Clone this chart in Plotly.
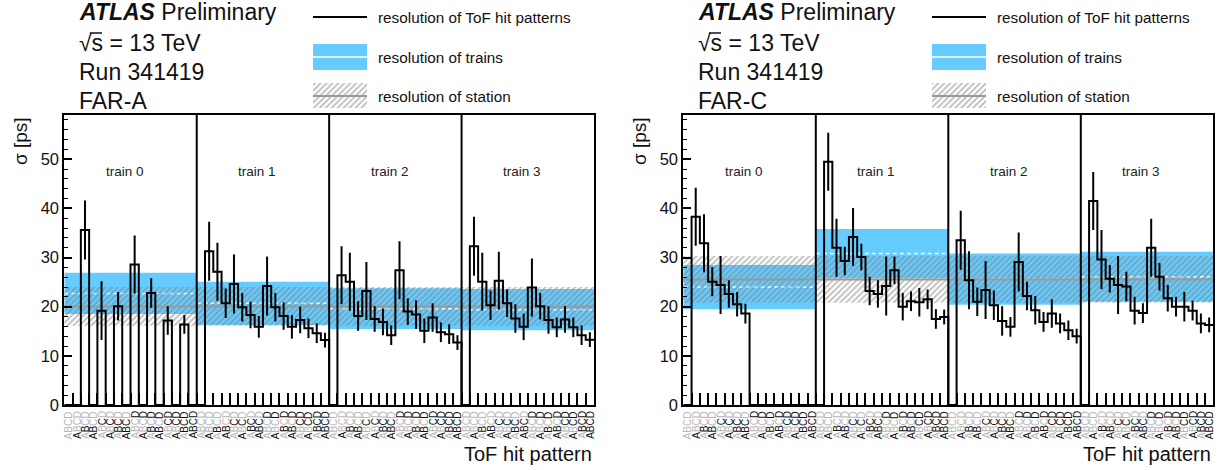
import plotly.graph_objects as go

W, H = 1227, 470
FONT = "Liberation Sans, Arial, Helvetica, sans-serif"

# ---------------- data ----------------
hit_letters = ["A", "B", "C", "D"]
n_patterns = 16          # hit patterns per train (binary ABCD)
train_names = ["train 0", "train 1", "train 2", "train 3"]
y_tick_values = [0, 10, 20, 30, 40, 50]
header_lines = ["<b><i>ATLAS</i></b> Preliminary", "√s = 13 TeV", "Run 341419"]
legend_labels = ["resolution of ToF hit patterns", "resolution of trains", "resolution of station"]

# FAR-A : sigma [ps] per hit pattern, per train
farA_sigma_t0 = [0, 0, 35.6, 0, 19.2, 0, 20.1, 0, 28.6, 0, 22.8, 0, 17.2, 0, 16.4, 0]
farA_err_t0 = [0, 0, 6.0, 0, 6.0, 0, 2.9, 0, 5.9, 0, 3.0, 0, 2.9, 0, 1.9, 0]
farA_sigma_t1 = [0, 31.3, 27.1, 20.7, 24.6, 19.9, 18.3, 15.9, 24.2, 19.9, 18.1, 15.9, 17.3, 15.6, 14.6, 13.2]
farA_err_t1 = [0, 6.0, 5.9, 3.0, 6.0, 2.9, 2.7, 2.2, 6.0, 2.9, 2.8, 2.4, 2.7, 2.0, 2.0, 1.5]
farA_sigma_t2 = [0, 26.4, 25.1, 18.1, 23.2, 17.5, 16.9, 14.2, 27.4, 19.0, 18.4, 15.1, 17.8, 14.8, 14.4, 12.7]
farA_err_t2 = [0, 5.9, 5.9, 3.0, 5.9, 2.6, 2.7, 2.0, 5.9, 2.7, 2.9, 2.5, 2.9, 2.0, 2.0, 1.5]
farA_sigma_t3 = [0, 32.3, 25.1, 20.3, 25.3, 20.7, 17.6, 15.9, 23.9, 20.1, 17.3, 15.8, 17.4, 15.8, 14.2, 13.3]
farA_err_t3 = [0, 6.0, 5.9, 3.0, 5.9, 2.8, 2.9, 2.7, 5.9, 2.7, 2.8, 2.0, 2.7, 2.0, 2.0, 1.5]
farA_train_center = [22.7, 20.7, 19.6, 19.4]
farA_train_halfwidth = [4.2, 4.4, 4.15, 4.2]
farA_station_center = 20.05
farA_station_halfwidth = 3.95

# FAR-C
farC_sigma_t0 = [0, 38.3, 32.9, 25.1, 24.4, 22.6, 20.5, 18.6, 0, 0, 0, 0, 0, 0, 0, 0]
farC_err_t0 = [0, 5.9, 5.9, 3.0, 5.9, 2.8, 2.5, 2.0, 0, 0, 0, 0, 0, 0, 0, 0]
farC_sigma_t1 = [0, 49.5, 32.0, 29.3, 34.2, 30.1, 23.2, 22.6, 24.2, 27.4, 20.0, 21.1, 20.9, 21.5, 17.5, 17.9]
farC_err_t1 = [0, 5.9, 5.9, 2.9, 5.9, 2.7, 2.9, 2.8, 6.0, 2.8, 2.8, 2.0, 2.9, 2.0, 2.0, 1.5]
farC_sigma_t2 = [0, 33.5, 25.4, 21.0, 23.4, 20.3, 17.1, 15.9, 29.1, 22.2, 19.3, 16.9, 18.6, 16.6, 15.2, 14.0]
farC_err_t2 = [0, 6.0, 5.9, 2.9, 5.9, 3.0, 3.0, 2.0, 6.0, 2.9, 2.9, 2.0, 2.9, 2.0, 2.0, 1.5]
farC_sigma_t3 = [0, 41.5, 29.6, 25.7, 24.4, 24.1, 19.2, 18.7, 32.0, 26.1, 21.7, 20.0, 20.0, 19.2, 16.6, 16.3]
farC_err_t3 = [0, 5.9, 6.0, 2.8, 5.9, 3.0, 2.8, 2.0, 5.9, 2.8, 2.7, 2.0, 3.0, 2.0, 2.0, 1.5]
farC_train_center = [24.0, 30.8, 25.6, 26.1]
farC_train_halfwidth = [4.5, 5.0, 5.2, 5.1]
farC_station_center = 25.55
farC_station_halfwidth = 4.75

# ---------------- styling ----------------
BLUE = "#66CCFF"
HATCH = "#7c7c7c"
GRAY_LINE = "#999999"
ABSENT = "#b8b8b8"

panels = [
    dict(station="FAR-A",
         sigma=farA_sigma_t0 + farA_sigma_t1 + farA_sigma_t2 + farA_sigma_t3,
         err=farA_err_t0 + farA_err_t1 + farA_err_t2 + farA_err_t3,
         tc=farA_train_center, th=farA_train_halfwidth,
         sc=farA_station_center, sh=farA_station_halfwidth,
         px0=64.3, px1=594.0),
    dict(station="FAR-C",
         sigma=farC_sigma_t0 + farC_sigma_t1 + farC_sigma_t2 + farC_sigma_t3,
         err=farC_err_t0 + farC_err_t1 + farC_err_t2 + farC_err_t3,
         tc=farC_train_center, th=farC_train_halfwidth,
         sc=farC_station_center, sh=farC_station_halfwidth,
         px0=683.3, px1=1213.3),
]

PY_TOP, PY_BOT = 115.0, 405.0
n_bins = n_patterns * len(train_names)

fig = go.Figure()
annotations = []
shapes = []

for i, p in enumerate(panels):
    xa = "x" if i == 0 else "x2"
    ya = "y" if i == 0 else "y2"
    dx = p["px0"] - panels[0]["px0"]

    # blue train bands
    bx, by = [], []
    for t in range(len(train_names)):
        a, b = t * n_patterns, (t + 1) * n_patterns
        lo, hi = p["tc"][t] - p["th"][t], p["tc"][t] + p["th"][t]
        bx += [a, b, b, a, a, None]
        by += [lo, lo, hi, hi, lo, None]
    fig.add_trace(go.Scatter(x=bx, y=by, xaxis=xa, yaxis=ya, mode="lines", fill="toself",
                             fillcolor=BLUE, line=dict(width=0), hoverinfo="skip", showlegend=False))
    # white dashed centre lines of trains
    wx, wy = [], []
    for t in range(len(train_names)):
        wx += [t * n_patterns, (t + 1) * n_patterns, None]
        wy += [p["tc"][t], p["tc"][t], None]
    fig.add_trace(go.Scatter(x=wx, y=wy, xaxis=xa, yaxis=ya, mode="lines",
                             line=dict(color="white", width=1.5, dash="4px,3px"),
                             hoverinfo="skip", showlegend=False))
    # hatched station band
    lo, hi = p["sc"] - p["sh"], p["sc"] + p["sh"]
    fig.add_trace(go.Scatter(x=[0, n_bins, n_bins, 0, 0], y=[lo, lo, hi, hi, lo], xaxis=xa, yaxis=ya,
                             mode="lines", fill="toself", fillcolor="rgba(0,0,0,0)",
                             fillpattern=dict(shape="/", fgcolor=HATCH, bgcolor="rgba(0,0,0,0)",
                                              size=4.2, solidity=0.45),
                             line=dict(width=0), hoverinfo="skip", showlegend=False))
    fig.add_trace(go.Scatter(x=[0, n_bins], y=[p["sc"], p["sc"]], xaxis=xa, yaxis=ya, mode="lines",
                             line=dict(color=GRAY_LINE, width=2), hoverinfo="skip", showlegend=False))
    # histogram outline
    edges = list(range(n_bins + 1))
    fig.add_trace(go.Scatter(x=edges, y=p["sigma"] + [p["sigma"][-1]], xaxis=xa, yaxis=ya, mode="lines",
                             line=dict(color="black", width=2, shape="hv"), hoverinfo="skip",
                             showlegend=False))
    # error bars
    ex = [k + 0.5 for k in range(n_bins) if p["sigma"][k] > 0]
    ey = [p["sigma"][k] for k in range(n_bins) if p["sigma"][k] > 0]
    ee = [p["err"][k] for k in range(n_bins) if p["sigma"][k] > 0]
    fig.add_trace(go.Scatter(x=ex, y=ey, xaxis=xa, yaxis=ya, mode="markers",
                             marker=dict(size=1, color="rgba(0,0,0,0)"),
                             error_y=dict(type="data", array=ee, visible=True, color="black",
                                          thickness=2, width=0),
                             hoverinfo="skip", showlegend=False))
    # train separators
    for t in range(1, len(train_names)):
        shapes.append(dict(type="line", xref=xa, yref=ya + " domain", x0=t * n_patterns,
                           x1=t * n_patterns, y0=0, y1=1, line=dict(color="black", width=2)))
    # train labels
    for t, nm in enumerate(train_names):
        annotations.append(dict(xref=xa, yref="y3", x=t * n_patterns + n_patterns / 2 - 0.7, y=171,
                                text=nm, showarrow=False, font=dict(size=13.5, color="#222"),
                                xanchor="center", yanchor="middle"))
    # bin labels (rotated, present hits black, absent grey)
    for k in range(n_bins):
        pat = k % n_patterns
        txt = "".join(
            "<span style='color:%s'>%s</span>" % ("#111" if (pat >> j) & 1 else ABSENT, L)
            for j, L in enumerate(hit_letters))
        annotations.append(dict(xref=xa, yref="y3", x=k + 0.5, y=425, text=txt, textangle=-90,
                                showarrow=False, font=dict(size=10), xanchor="center",
                                yanchor="middle"))
    # axis titles
    annotations.append(dict(xref="x3", yref="y3", x=p["px1"], y=454, text="ToF hit pattern",
                            showarrow=False, font=dict(size=20, color="#111"), xanchor="right",
                            yanchor="middle"))
    annotations.append(dict(xref="x3", yref="y3", x=20 + dx, y=141, text="σ [ps]", textangle=-90,
                            showarrow=False, font=dict(size=19, color="#111"), xanchor="center",
                            yanchor="middle"))
    # header texts
    for j, line in enumerate(header_lines + [p["station"]]):
        annotations.append(dict(xref="x3", yref="y3", x=77 + dx, y=[12, 43, 72, 101][j], text=line,
                                showarrow=False, font=dict(size=23, color="#111"), xanchor="left",
                                yanchor="middle"))
    shapes.append(dict(type="line", xref="x3", yref="y3", x0=90 + dx, x1=102 + dx, y0=33, y1=33,
                       line=dict(color="#111", width=1.5)))
    # legend
    lx0, lx1 = 313 + dx, 367 + dx
    fig.add_trace(go.Scatter(x=[lx0, lx1], y=[17, 17], xaxis="x3", yaxis="y3", mode="lines",
                             line=dict(color="black", width=2), hoverinfo="skip", showlegend=False))
    fig.add_trace(go.Scatter(x=[lx0, lx1, lx1, lx0, lx0], y=[44, 44, 70, 70, 44], xaxis="x3", yaxis="y3",
                             mode="lines", fill="toself", fillcolor=BLUE, line=dict(width=0),
                             hoverinfo="skip", showlegend=False))
    fig.add_trace(go.Scatter(x=[lx0, lx1], y=[57, 57], xaxis="x3", yaxis="y3", mode="lines",
                             line=dict(color="white", width=1.5), hoverinfo="skip", showlegend=False))
    fig.add_trace(go.Scatter(x=[lx0, lx1, lx1, lx0, lx0], y=[83, 83, 108, 108, 83], xaxis="x3",
                             yaxis="y3", mode="lines", fill="toself", fillcolor="rgba(0,0,0,0)",
                             fillpattern=dict(shape="/", fgcolor=HATCH, bgcolor="rgba(0,0,0,0)",
                                              size=4.2, solidity=0.45),
                             line=dict(width=0), hoverinfo="skip", showlegend=False))
    fig.add_trace(go.Scatter(x=[lx0, lx1], y=[96, 96], xaxis="x3", yaxis="y3", mode="lines",
                             line=dict(color=GRAY_LINE, width=2), hoverinfo="skip", showlegend=False))
    for j, lab in enumerate(legend_labels):
        annotations.append(dict(xref="x3", yref="y3", x=376 + dx, y=[17, 57, 96][j], text=lab,
                                showarrow=False, font=dict(size=15.3, color="#111"), xanchor="left",
                                yanchor="middle"))

common_x = dict(range=[0, n_bins], showline=True, mirror=True, linewidth=2, linecolor="black",
                ticks="inside", tickmode="array", tickvals=list(range(n_bins + 1)), ticklen=12,
                tickwidth=2, tickcolor="black", showticklabels=False, showgrid=False, zeroline=False,
                automargin=False)
common_y = dict(range=[0, 59], showline=True, mirror=True, linewidth=2, linecolor="black",
                ticks="inside", tickmode="array", tickvals=y_tick_values, ticklen=8, tickwidth=1.5,
                tickcolor="black", minor=dict(dtick=2, tick0=0, ticks="inside", ticklen=4,
                                              tickwidth=1, tickcolor="black"),
                tickfont=dict(size=16.5, color="#111"), showgrid=False, zeroline=False,
                automargin=False)

ydom = [1 - PY_BOT / H, 1 - PY_TOP / H]
fig.update_layout(
    width=W, height=H, autosize=False, margin=dict(l=0, r=0, t=0, b=0, pad=0, autoexpand=False),
    paper_bgcolor="white", plot_bgcolor="rgba(0,0,0,0)",
    font=dict(family=FONT, color="#111"),
    xaxis=dict(domain=[panels[0]["px0"] / W, panels[0]["px1"] / W], anchor="y", **common_x),
    yaxis=dict(domain=ydom, anchor="x", **common_y),
    xaxis2=dict(domain=[panels[1]["px0"] / W, panels[1]["px1"] / W], anchor="y2", **common_x),
    yaxis2=dict(domain=ydom, anchor="x2", **common_y),
    xaxis3=dict(domain=[0, 1], range=[0, W], visible=False, anchor="y3", automargin=False),
    yaxis3=dict(domain=[0, 1], range=[H, 0], visible=False, anchor="x3", automargin=False),
    annotations=annotations, shapes=shapes, showlegend=False,
)

fig.write_html("out.html")
